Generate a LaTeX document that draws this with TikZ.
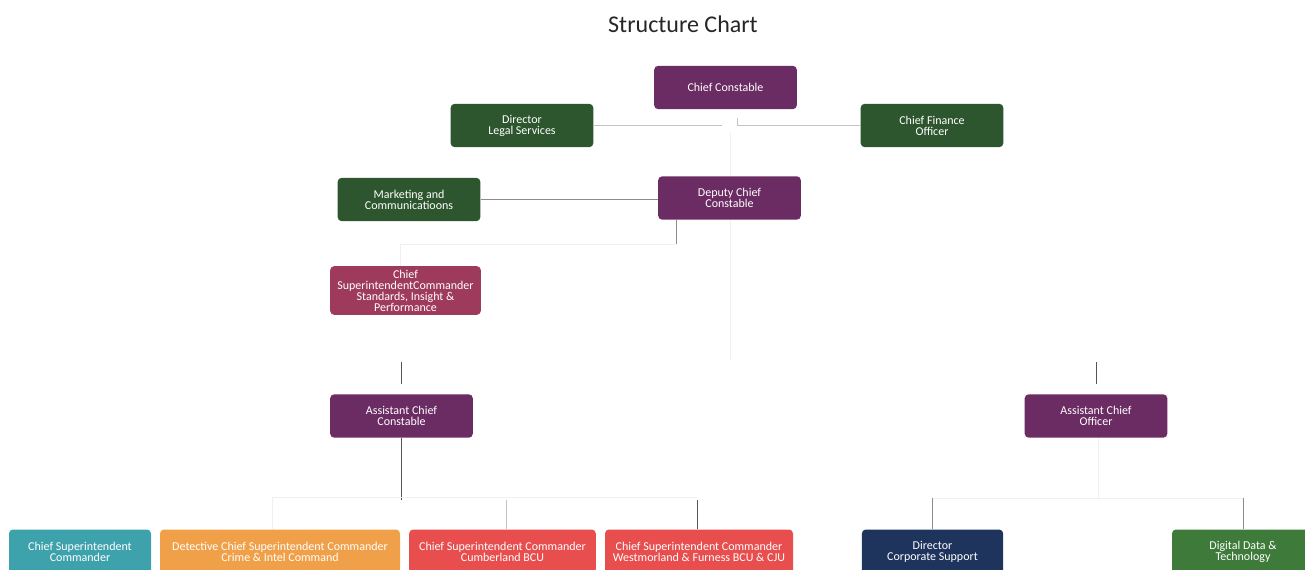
\documentclass[tikz,border=0pt]{standalone}
\usepackage{fontspec}
\setmainfont{Carlito}
\usetikzlibrary{backgrounds}
\definecolor{ccpurple}{RGB}{107,43,99}
\definecolor{dkgreen}{RGB}{45,86,47}
\definecolor{raspberry}{RGB}{158,58,92}
\definecolor{tealbox}{RGB}{62,162,173}
\definecolor{orangebox}{RGB}{240,160,72}
\definecolor{redbox}{RGB}{232,78,78}
\definecolor{navybox}{RGB}{30,52,92}
\definecolor{midgreen}{RGB}{62,122,58}

\begin{document}
\begin{tikzpicture}[x=0.75pt, y=-0.75pt,
	box/.style={rounded corners=3pt, text=white, align=center, inner sep=0pt, minimum width=107pt, minimum height=32.5pt},
	lightline/.style={draw={rgb,255:red,196;green,196;blue,200}, line width=0.7pt},
	midline/.style={draw={rgb,255:red,140;green,140;blue,140}, line width=0.7pt},
	darkline/.style={draw={rgb,255:red,85;green,85;blue,85}, line width=0.7pt},
	faintline/.style={draw={rgb,255:red,240;green,240;blue,240}, line width=0.7pt}]
	\tikzstyle{every node}=[font=\fontsize{9}{8.2}\selectfont]

	\useasboundingbox (0,0) rectangle (1305,570);
	\clip (0,0) rectangle (1305,570);

	%title
	\node[font=\fontsize{18}{20}\selectfont, text=black!85] (title) at (683,24) {Structure Chart};

	%top boxes
	\node[box, fill=ccpurple] (cc) at (725.5,87.5) {Chief Constable};
	\node[box, fill=dkgreen] (legal) at (522,125.5) {Director\\Legal Services};
	\node[box, fill=dkgreen] (cfo) at (932,125.5) {Chief Finance\\Officer};
	\node[box, fill=dkgreen] (mkt) at (409,199.5) {Marketing and\\Communicatioons};
	\node[box, fill=ccpurple] (dcc) at (729.5,198) {Deputy Chief\\Constable};
	\node[box, fill=raspberry, minimum width=113pt, minimum height=36.5pt] (csc) at (405.5,290.5)
		{Chief\\SuperintendentCommander\\Standards, Insight \&\\Performance};
	\node[box, fill=ccpurple] (acc) at (401.5,416) {Assistant Chief\\Constable};
	\node[box, fill=ccpurple] (aco) at (1096,416) {Assistant Chief\\Officer};

	%bottom row
	\node[box, fill=tealbox, minimum width=106.5pt, minimum height=33pt] (csup) at (80,551.5) {Chief Superintendent\\Commander};
	\node[box, fill=orangebox, minimum width=180pt, minimum height=33pt] (det) at (280,551.5) {Detective Chief Superintendent Commander\\Crime \& Intel Command};
	\node[box, fill=redbox, minimum width=140pt, minimum height=33pt] (cumb) at (502.5,551.5) {Chief Superintendent Commander\\Cumberland BCU};
	\node[box, fill=redbox, minimum width=141pt, minimum height=33pt] (west) at (699,551.5) {Chief Superintendent Commander\\Westmorland \& Furness BCU \& CJU};
	\node[box, fill=navybox, minimum width=106pt, minimum height=33pt] (dcs) at (932.5,551.5) {Director\\Corporate Support};
	\node[box, fill=midgreen, minimum width=106.5pt, minimum height=33pt] (ddt) at (1243,551.5) {Digital Data \&\\Technology};

	%lines
	\begin{scope}[on background layer]
	\coordinate (ccleft) at (722,125.5);
	\coordinate (ccright) at (737,118);
	\draw[lightline] (legal.east) -- (ccleft);
	\draw[lightline] (ccright) |- (cfo.west);
	\draw[faintline] (730,132) -- (730,360);
	\draw[midline] (mkt.east) -- (mkt.east -| dcc.west);
	\coordinate (dccdrop) at (676,244);
	\draw[midline] (dccdrop |- dcc.south) -- (dccdrop);
	\draw[faintline] (dccdrop) -| ([xshift=-4pt]csc.north);
	\coordinate (acctop) at (401,362);
	\draw[darkline] (acctop) -- (401,384);
	\coordinate (accdrop) at (401,500);
	\draw[darkline] (acc.south -| accdrop) -- (accdrop);
	\coordinate (detdrop) at (272,497);
	\draw[faintline] (detdrop) -- (697,497);
	\draw[faintline] (detdrop) -- ([xshift=-6pt]det.north);
	\draw[lightline] ([xshift=2.6pt]cumb.north) -- ++(0,-29);
	\draw[darkline] ([xshift=-1.5pt]west.north) -- ++(0,-29);
	\coordinate (acotop) at (1096,362);
	\draw[darkline] (acotop) -- (1096,384);
	\coordinate (acodrop) at (1098,498);
	\draw[faintline] (aco.south -| acodrop) -- (acodrop);
	\draw[faintline] (932,498) -- (1243,498);
	\draw[midline] (dcs.north) -- ++(0,-31);
	\draw[midline] (ddt.north) -- ++(0,-31);
	\end{scope}
\end{tikzpicture}
\end{document}
